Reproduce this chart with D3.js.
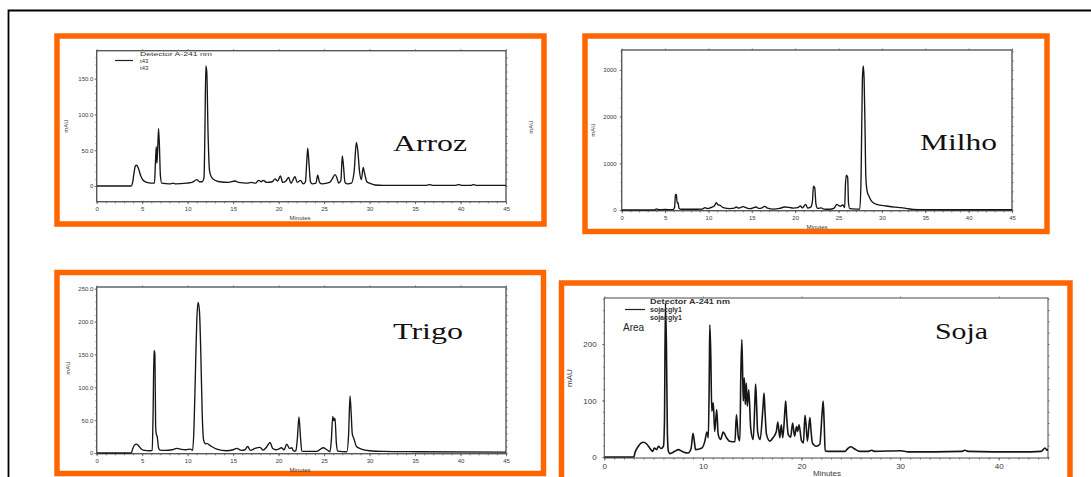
<!DOCTYPE html>
<html>
<head>
<meta charset="utf-8">
<script src="https://cdn.jsdelivr.net/npm/d3@7"></script>
<style>
  body { margin: 0; background: #fff; }
  svg { display: block; font-family: "Liberation Sans", Arial, sans-serif; }
</style>
</head>
<body>
<svg id="chart" width="1091" height="477"></svg>
<script>
// Retention time ticks (minutes)
const minuteTicks = [0, 5, 10, 15, 20, 25, 30, 35, 40, 45];
const sojaMinuteTicks = [0, 10, 20, 30, 40];

// Absorbance ticks (mAU) per sample
const arrozTicks = [0, 50, 100, 150];
const milhoTicks = [0, 1000, 2000, 3000];
const trigoTicks = [0, 50, 100, 150, 200, 250];
const sojaTicks = [0, 100, 200];

// Chromatogram traces: [minutes, mAU]
const arrozTrace = [
  [0,0],[3.8,0],[3.95,5],[4.1,18],[4.25,28],[4.4,29],[4.6,24],[4.85,14],[5.1,8],[5.5,5],[6.0,4],[6.35,4],
  [6.45,30],[6.55,55],[6.62,32],[6.7,50],[6.8,80],[6.9,55],[7.0,15],[7.15,4],[8.0,3],[8.4,4],[8.7,3],
  [9.9,4],[10.5,5],[11.0,9],[11.3,6],[11.6,6],[11.8,12],[11.9,80],[12.0,168],[12.1,160],[12.25,70],
  [12.4,22],[12.6,13],[13.0,8],[13.5,6],[14.5,5],[15.2,7],[15.6,5],[16.5,4],[17.0,5],[17.5,4],[17.8,8],
  [18.1,6],[18.3,8],[18.7,5],[19.3,6],[19.6,10],[19.9,7],[20.2,14],[20.45,5],[20.8,7],[21.1,12],[21.35,4],
  [21.8,13],[22.05,5],[22.4,8],[22.7,3],[22.95,6],[23.1,35],[23.2,53],[23.35,30],[23.5,6],[23.7,3],[24.1,4],
  [24.3,15],[24.5,5],[24.8,3],[25.6,5],[25.9,10],[26.2,16],[26.4,12],[26.6,4],[26.85,8],[27.0,42],[27.12,30],
  [27.3,5],[27.6,3],[28.0,4],[28.3,20],[28.55,61],[28.7,50],[28.9,20],[29.1,9],[29.3,26],[29.45,18],[29.7,6],
  [30.0,4],[30.6,1.5],[31.5,1],[36.3,1],[36.6,2],[36.9,1],[39.5,1],[39.8,2],[40.1,1],[41.2,1],[41.4,2],
  [41.7,1],[45,1]
];
const milhoTrace = [
  [0,0],[3.8,0],[4.0,25],[4.3,5],[5.0,10],[5.9,8],[6.1,60],[6.2,330],[6.3,334],[6.4,150],[6.5,156],[6.6,40],
  [6.8,15],[8.0,15],[9.3,20],[9.6,50],[9.9,30],[10.4,60],[10.7,90],[10.9,156],[11.1,110],[11.3,105],[11.7,50],
  [12.5,30],[13.0,40],[13.2,64],[13.5,40],[14.0,71],[14.4,45],[14.8,30],[15.5,64],[15.8,35],[16.1,40],
  [16.5,78],[16.8,40],[17.5,20],[18.2,35],[18.8,64],[19.3,55],[19.8,40],[20.3,50],[20.6,85],[20.85,45],
  [21.2,121],[21.45,40],[21.8,60],[22.0,200],[22.1,512],[22.25,480],[22.4,120],[22.6,35],[23.0,45],[23.3,20],
  [24.0,15],[24.5,40],[24.8,121],[25.0,100],[25.2,80],[25.5,107],[25.7,50],[25.8,550],[25.9,746],[26.05,700],
  [26.15,150],[26.3,30],[27.0,20],[27.45,20],[27.6,700],[27.75,2800],[27.85,3085],[27.95,2800],[28.05,1800],
  [28.15,700],[28.3,400],[28.5,300],[28.8,190],[29.4,120],[30.5,85],[31.5,60],[32.2,50],[32.8,35],[33.6,14],
  [35,8],[40,5],[45,5]
];
const trigoTrace = [
  [0,0],[3.8,0],[3.95,6],[4.15,12],[4.35,13.6],[4.6,11],[4.85,7],[5.1,4.5],[5.9,3.5],[6.1,4],[6.2,60],
  [6.3,156],[6.4,150],[6.48,40],[6.55,29],[6.65,25],[6.8,8],[6.95,4.5],[7.5,4],[8.3,5],[8.8,7],[9.3,5.5],
  [9.8,5],[10.3,6],[10.55,4],[10.7,40],[10.85,120],[11.0,200],[11.15,229],[11.3,215],[11.45,150],[11.6,60],
  [11.75,20],[11.95,14],[12.1,14.6],[12.5,11],[13.2,6],[14.3,3.5],[15.0,5],[15.4,7],[15.9,4],[16.3,5],
  [16.6,10],[16.9,4],[17.4,7],[17.95,8.6],[18.3,4.5],[18.7,9.6],[19.05,16],[19.35,7],[19.7,5],[20.0,6],
  [20.3,8],[20.6,5],[20.9,13.6],[21.2,7],[21.45,8],[21.65,3],[21.9,3.5],[22.05,20],[22.24,55],[22.4,25],
  [22.55,3],[23.1,2.5],[24.2,2.5],[24.9,8],[25.3,5],[25.65,2],[25.8,20],[25.95,55.6],[26.08,49],[26.2,53],
  [26.35,15],[26.5,3],[27.5,2],[27.7,30],[27.85,87],[27.98,60],[28.1,29],[28.3,21],[28.55,10],[29.1,6],
  [30.0,3.5],[31.5,2.5],[35.2,2],[45,1.5]
];
const sojaTrace = [
  [0,0],[3.0,0],[3.1,7],[3.45,19],[3.95,26],[4.3,23],[4.6,16],[4.9,10],[5.07,16],[5.3,13],[5.5,19],[5.75,15],
  [6.0,19],[6.1,60],[6.2,272],[6.3,200],[6.4,40],[6.5,10],[6.65,6],[7.15,10],[7.5,13],[8.0,9],[8.5,7],
  [8.8,15],[9.0,42],[9.15,25],[9.25,13],[9.9,16],[10.2,28],[10.4,44],[10.55,34],[10.65,150],[10.7,234],
  [10.8,180],[10.9,81],[11.05,96],[11.2,45],[11.4,84],[11.55,40],[11.8,31],[12.05,44],[12.4,34],[12.7,28],
  [13.25,27],[13.4,75],[13.6,34],[13.75,29],[13.85,150],[13.95,208],[14.05,130],[14.1,99],[14.2,140],
  [14.3,93],[14.4,131],[14.5,90],[14.65,119],[14.85,51],[15.1,31],[15.3,110],[15.35,129],[15.45,90],
  [15.55,45],[15.8,31],[16.1,90],[16.2,113],[16.3,80],[16.45,40],[16.8,28],[17.1,34],[17.45,45],[17.6,62],
  [17.8,34],[17.95,57],[18.1,34],[18.35,90],[18.4,99],[18.5,70],[18.65,40],[18.9,35],[19.1,60],[19.3,37],
  [19.5,54],[19.6,45],[19.75,57],[20.0,29],[20.2,25],[20.35,74],[20.45,60],[20.6,28],[20.85,70],[20.95,50],
  [21.1,25],[21.5,19],[21.85,22],[22.1,80],[22.2,99],[22.3,60],[22.4,11],[22.7,10],[24.4,10],[24.7,15],
  [25.0,18],[25.4,14],[25.9,10],[26.8,10],[27.1,12],[27.4,10],[30.1,11],[30.8,9],[36.3,10],[36.55,12],
  [36.9,10],[42.3,9],[44.3,10],[44.7,16],[44.9,12],[45,14]
];

const svg = d3.select("#chart");
const ORANGE = "#ff6600";
const TRACE = "#161616";
const FRAME = "#595959";
const SANS = "'Liberation Sans', Arial, sans-serif";
const SERIF = "'Liberation Serif', 'Times New Roman', serif";

// page frame
svg.append("path")
  .attr("d", "M8.5,477V10.5H1091")
  .attr("fill", "none").attr("stroke", "#000").attr("stroke-width", 1.8);

const decimal = v => v === 0 ? "0" : v.toFixed(1);
const plain = v => String(v);

const panels = [
  { title: "Arroz", trace: arrozTrace, yTicks: arrozTicks, xTicks: minuteTicks, fmt: decimal,
    box: [57, 36, 487, 188], plot: [96.7, 50.7, 506, 201.7], yDom: [-21.9, 189.1], minorY: 10,
    titlePos: [393, 151, 74], font: 6, xLab: 5, yLab: 3.4,
    minutes: [300, 220], mau: [[68, 126], [533, 127]],
    legend: { pos: [115, 54], series: "t43", width: 72 } },
  { title: "Milho", trace: milhoTrace, yTicks: milhoTicks, xTicks: minuteTicks, fmt: plain,
    box: [585, 36, 462, 195.5], plot: [621.7, 50, 1012, 210.7], yDom: [-15, 3426], minorY: 200,
    titlePos: [920, 150, 77], font: 6, xLab: 5.5, yLab: 5,
    minutes: [817, 229], mau: [[595, 130]] },
  { title: "Trigo", trace: trigoTrace, yTicks: trigoTicks, xTicks: minuteTicks, fmt: decimal,
    box: [57, 272.5, 486.5, 201], plot: [96.7, 287, 506, 453.7], yDom: [-1, 252.5], minorY: 10,
    titlePos: [393, 339, 70], font: 6, xLab: 5, yLab: 3.4,
    minutes: [300, 472], mau: [[70, 368]] },
  { title: "Soja", trace: sojaTrace, yTicks: sojaTicks, xTicks: sojaMinuteTicks, fmt: plain,
    box: [561.5, 283, 508.5, 250], plot: [604.3, 298, 1048, 458], yDom: [-1.8, 281.4], minorY: 20,
    titlePos: [935, 339, 53], font: 8, xLab: 5.5, yLab: 7.6,
    minutes: [827, 476], mau: [[572, 378]], thick: true,
    legend: { pos: [625, 302], series: "sojacgly1", width: 80, big: true } }
];

panels.forEach((p, i) => {
  const [bx, by, bw, bh] = p.box;
  const [x0, y0, x1, y1] = p.plot;
  const x = d3.scaleLinear().domain([0, 45]).range([x0, x1]);
  const y = d3.scaleLinear().domain(p.yDom).range([y1, y0]);
  const g = svg.append("g");

  // orange card border
  g.append("rect").attr("x", bx).attr("y", by).attr("width", bw).attr("height", bh)
    .attr("fill", "#fff").attr("stroke", ORANGE).attr("stroke-width", 5.5);

  // plot frame
  g.append("rect").attr("x", x0).attr("y", y0).attr("width", x1 - x0).attr("height", y1 - y0)
    .attr("fill", "none").attr("stroke", FRAME).attr("stroke-width", p.thick ? 1.1 : 1.4);

  const styleAxis = sel => {
    sel.attr("font-family", null).attr("font-size", null);
    sel.select(".domain").remove();
    sel.selectAll("line").attr("stroke", FRAME).attr("stroke-width", 0.8);
    sel.selectAll("text").style("font-size", p.font + "px").attr("fill", "#3a3a3a")
      .style("font-family", SANS);
  };

  // bottom axis: major + minor ticks
  g.append("g").attr("transform", `translate(0,${y1})`)
    .call(d3.axisBottom(x).tickValues(d3.range(0, 46, 1)).tickSize(1.6).tickFormat(""))
    .call(styleAxis);
  g.append("g").attr("transform", `translate(0,${y1})`)
    .call(d3.axisBottom(x).tickValues(p.xTicks).tickSize(2.5).tickPadding(p.xLab - 2.5).tickFormat(plain))
    .call(styleAxis);

  // left axis
  g.append("g").attr("transform", `translate(${x0},0)`)
    .call(d3.axisLeft(y).tickValues(p.yTicks).tickSize(2).tickPadding(p.yLab - 2).tickFormat(p.fmt))
    .call(styleAxis);
  g.append("g").attr("transform", `translate(${x0},0)`)
    .call(d3.axisLeft(y).tickValues(d3.range(0, p.yDom[1], p.minorY)).tickSize(1.2).tickFormat(""))
    .call(styleAxis);

  // right axis minor ticks
  g.append("g").attr("transform", `translate(${x1},0)`)
    .call(d3.axisRight(y).tickValues(d3.range(0, p.yDom[1], p.minorY)).tickSize(1.6).tickFormat(""))
    .call(styleAxis);

  // top edge ticks
  g.append("g").attr("transform", `translate(0,${y0})`)
    .call(d3.axisTop(x).tickValues(p.xTicks).tickSize(1.5).tickFormat(""))
    .call(styleAxis);

  // trace
  const clipId = "clip" + i;
  g.append("clipPath").attr("id", clipId).append("rect")
    .attr("x", x0).attr("y", y0 - 2).attr("width", x1 - x0).attr("height", y1 - y0 + 4);
  const line = d3.line().x(d => x(d[0])).y(d => y(d[1])).curve(d3.curveMonotoneX);
  g.append("path").datum(p.trace)
    .attr("clip-path", `url(#${clipId})`)
    .attr("d", line).attr("fill", "none")
    .attr("stroke", TRACE).attr("stroke-width", p.thick ? 1.6 : 1.35)
    .attr("stroke-linejoin", "round");

  // axis titles
  g.append("text").attr("x", p.minutes[0]).attr("y", p.minutes[1])
    .attr("text-anchor", "middle").style("font-size", p.font + "px").attr("fill", "#3a3a3a")
    .text("Minutes");
  p.mau.forEach(([mx, my]) => {
    g.append("text").attr("transform", `translate(${mx},${my}) rotate(-90)`)
      .attr("text-anchor", "middle").style("font-size", p.font + "px").attr("fill", "#3a3a3a")
      .text("mAU");
  });

  // legend block
  if (p.legend) {
    const [lx, ly] = p.legend.pos;
    const big = !!p.legend.big;
    const fs = big ? 7 : 6;
    const step = big ? 8 : 7;
    const lg = g.append("g").style("font-size", fs + "px")
      .style("font-weight", big ? "bold" : "normal").attr("fill", "#333");
    lg.append("text").attr("x", lx + 25).attr("y", ly + 2)
      .attr("textLength", p.legend.width).attr("lengthAdjust", "spacingAndGlyphs")
      .text("Detector A-241 nm");
    lg.append("line").attr("x1", lx).attr("x2", lx + (big ? 20 : 18))
      .attr("y1", ly + step - 0.5).attr("y2", ly + step - 0.5)
      .attr("stroke", "#222").attr("stroke-width", 1.2);
    lg.append("text").attr("x", lx + 25).attr("y", ly + 2 + step).text(p.legend.series);
    lg.append("text").attr("x", lx + 25).attr("y", ly + 2 + 2 * step).text(p.legend.series);
    if (big) {
      g.append("text").attr("x", lx - 2).attr("y", ly + 29)
        .style("font-size", "10px").attr("fill", "#222").text("Area");
    }
  }

  // sample name
  g.append("text").attr("x", p.titlePos[0]).attr("y", p.titlePos[1])
    .style("font-family", SERIF).style("font-size", "23px").attr("fill", "#111")
    .attr("textLength", p.titlePos[2]).attr("lengthAdjust", "spacingAndGlyphs")
    .text(p.title);
});
</script>
</body>
</html>
